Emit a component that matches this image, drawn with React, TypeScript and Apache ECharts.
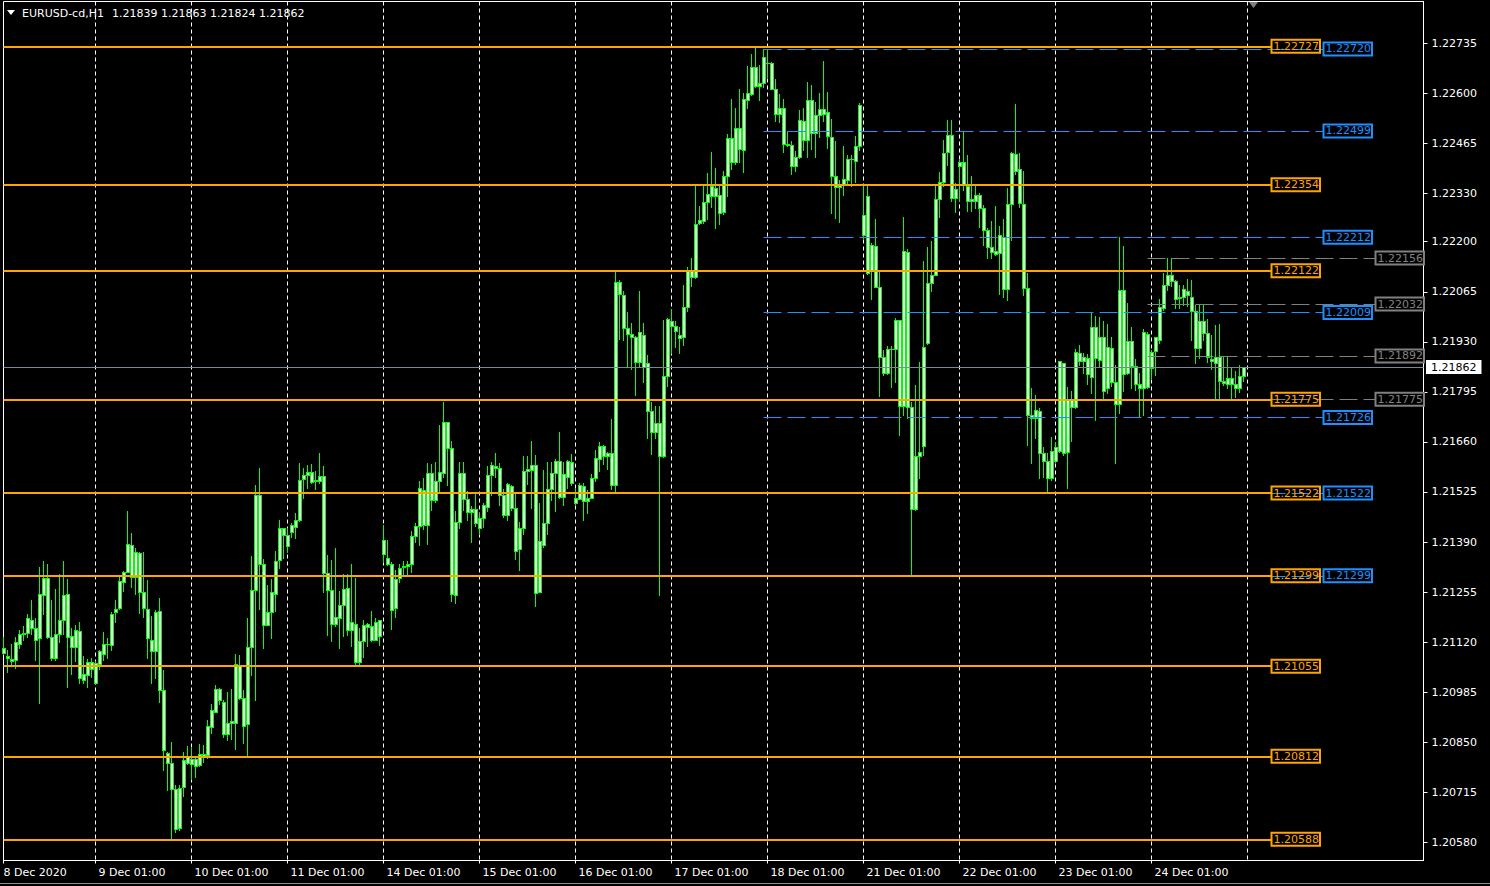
import React, { useEffect, useRef } from "react";
import * as echarts from "echarts";

// ---- data ----
const days = ["8 Dec", "9 Dec", "10 Dec", "11 Dec", "14 Dec", "15 Dec", "16 Dec", "17 Dec", "18 Dec", "21 Dec", "22 Dec", "23 Dec", "24 Dec", "25 Dec", "28 Dec"];
const firstDayBars = 23;
const barsPerDay = 24;
const slotCount = 356;
const lastGridSlot = 311;

// [open, close, low, high]
const dec08 = [
  [1.21103, 1.21091, 1.21089, 1.21134], [1.21082, 1.21076, 1.2104, 1.211], [1.21074, 1.21069, 1.21062, 1.21114],
  [1.21073, 1.2112, 1.2105, 1.21134], [1.21116, 1.21143, 1.21103, 1.21152], [1.21143, 1.21144, 1.21127, 1.21163],
  [1.21145, 1.21184, 1.21134, 1.21195], [1.21181, 1.21157, 1.21143, 1.21233], [1.21159, 1.21127, 1.21073, 1.21184],
  [1.21132, 1.21249, 1.20956, 1.21323], [1.21248, 1.21292, 1.21197, 1.21338], [1.21292, 1.21134, 1.2113, 1.2133],
  [1.21134, 1.21076, 1.21071, 1.21233], [1.21077, 1.21143, 1.21073, 1.21263], [1.21143, 1.21181, 1.21121, 1.21303],
  [1.21181, 1.21246, 1.21143, 1.21338], [1.21249, 1.21134, 1.20999, 1.2129], [1.21137, 1.21107, 1.21035, 1.21157],
  [1.21107, 1.21152, 1.21069, 1.21166], [1.21149, 1.21024, 1.2101, 1.21174], [1.21019, 1.21035, 1.21011, 1.21082],
  [1.21031, 1.21066, 1.20999, 1.21074], [1.21066, 1.21048, 1.21026, 1.21078],
];
const dec09 = [
  [1.2101, 1.21065, 1.21008, 1.21069], [1.21062, 1.21095, 1.21047, 1.211], [1.21089, 1.21116, 1.21071, 1.21147],
  [1.21114, 1.21116, 1.21077, 1.2113], [1.21113, 1.21195, 1.211, 1.212], [1.212, 1.2121, 1.21175, 1.21235],
  [1.21212, 1.21286, 1.2121, 1.213], [1.21283, 1.2131, 1.21258, 1.21311], [1.2131, 1.21386, 1.21308, 1.21473],
  [1.21383, 1.21296, 1.21269, 1.21414], [1.21296, 1.21364, 1.21249, 1.21373], [1.21361, 1.21254, 1.21199, 1.21363],
  [1.21256, 1.21212, 1.21188, 1.21363], [1.2121, 1.2113, 1.21078, 1.21287], [1.21127, 1.21097, 1.2101, 1.21191],
  [1.21097, 1.21202, 1.21023, 1.21206], [1.21205, 1.2099, 1.20959, 1.21238], [1.2099, 1.20828, 1.20776, 1.21044],
  [1.20821, 1.20795, 1.20722, 1.20823], [1.20795, 1.20725, 1.20591, 1.2085], [1.20723, 1.20617, 1.20607, 1.20734],
  [1.20618, 1.20727, 1.20612, 1.20734], [1.20728, 1.20801, 1.20706, 1.20823], [1.20794, 1.2081, 1.20792, 1.20839],
];
const dec10 = [
  [1.20806, 1.2079, 1.20752, 1.20835], [1.20785, 1.20806, 1.20756, 1.20814], [1.20788, 1.20819, 1.20785, 1.20846],
  [1.20817, 1.20814, 1.20797, 1.20842], [1.20815, 1.20893, 1.20808, 1.20911], [1.20891, 1.20936, 1.20875, 1.20954],
  [1.20932, 1.20993, 1.20931, 1.21004], [1.20993, 1.20963, 1.20952, 1.20995], [1.20958, 1.20873, 1.20864, 1.20963],
  [1.20873, 1.20902, 1.20857, 1.20985], [1.20902, 1.20906, 1.20858, 1.20994], [1.20903, 1.21062, 1.20833, 1.21087],
  [1.21059, 1.20969, 1.20966, 1.21086], [1.2097, 1.20895, 1.20848, 1.2099], [1.209, 1.21107, 1.20815, 1.21184],
  [1.21107, 1.2126, 1.21031, 1.21353], [1.2126, 1.21518, 1.20965, 1.21544], [1.21518, 1.2133, 1.2121, 1.21589],
  [1.2133, 1.21167, 1.21105, 1.21345], [1.21167, 1.21201, 1.21165, 1.21274], [1.21202, 1.21254, 1.21132, 1.2129],
  [1.21251, 1.21338, 1.21204, 1.21365], [1.21341, 1.21429, 1.21321, 1.21449], [1.21427, 1.2141, 1.21347, 1.21429],
];
const dec11 = [
  [1.2141, 1.2138, 1.21364, 1.21429], [1.21417, 1.21435, 1.21404, 1.21442], [1.21431, 1.21449, 1.21402, 1.21467],
  [1.21449, 1.21557, 1.21447, 1.21603], [1.21559, 1.21572, 1.2151, 1.21589], [1.21572, 1.21579, 1.21536, 1.21598],
  [1.21579, 1.21553, 1.2155, 1.216], [1.21554, 1.21557, 1.21533, 1.21581], [1.21555, 1.21568, 1.21548, 1.21631],
  [1.21568, 1.21307, 1.21256, 1.21595], [1.21307, 1.2126, 1.21139, 1.21355], [1.2126, 1.2117, 1.21123, 1.21341],
  [1.2117, 1.21188, 1.21164, 1.21375], [1.21186, 1.21219, 1.21103, 1.21258], [1.21221, 1.21264, 1.21136, 1.21303],
  [1.21267, 1.21154, 1.21139, 1.21303], [1.21154, 1.21173, 1.2111, 1.21332], [1.2117, 1.21066, 1.21058, 1.21292],
  [1.21066, 1.21122, 1.2106, 1.21158], [1.21122, 1.21166, 1.2108, 1.21179], [1.21161, 1.21168, 1.2111, 1.21172],
  [1.21163, 1.21127, 1.21123, 1.21203], [1.21127, 1.21173, 1.21125, 1.21186], [1.21137, 1.21179, 1.21112, 1.21181],
];
const dec14 = [
  [1.21359, 1.21395, 1.21337, 1.21436], [1.21346, 1.2133, 1.21328, 1.21395], [1.2133, 1.21208, 1.21156, 1.21337],
  [1.21211, 1.21289, 1.21188, 1.21314], [1.21292, 1.21319, 1.21283, 1.21332], [1.21323, 1.21325, 1.21303, 1.21338],
  [1.21326, 1.21332, 1.213, 1.21338], [1.21332, 1.21406, 1.2131, 1.2142], [1.21406, 1.21433, 1.21391, 1.21442],
  [1.21433, 1.21535, 1.21382, 1.21555], [1.2153, 1.21436, 1.21424, 1.21564], [1.21436, 1.21575, 1.21384, 1.21602],
  [1.21575, 1.21503, 1.21476, 1.216], [1.21503, 1.21554, 1.21499, 1.21606], [1.21554, 1.21578, 1.21523, 1.21706],
  [1.21575, 1.21713, 1.21566, 1.21767], [1.21713, 1.21643, 1.21544, 1.21715], [1.21643, 1.21251, 1.21231, 1.21662],
  [1.21246, 1.21445, 1.21226, 1.21473], [1.21445, 1.21575, 1.21427, 1.21606], [1.21575, 1.21505, 1.21476, 1.21606],
  [1.21505, 1.2147, 1.21449, 1.21527], [1.2147, 1.21478, 1.21391, 1.21487], [1.21478, 1.2144, 1.21433, 1.21521],
];
const dec15 = [
  [1.21428, 1.21454, 1.21411, 1.21467], [1.21454, 1.2149, 1.21431, 1.21494], [1.21485, 1.21572, 1.21474, 1.21595],
  [1.21572, 1.21599, 1.21517, 1.21606], [1.21596, 1.21589, 1.21566, 1.21631], [1.21591, 1.21518, 1.2149, 1.21602],
  [1.21518, 1.21463, 1.21458, 1.21532], [1.21463, 1.21546, 1.21449, 1.2155], [1.21542, 1.21481, 1.21476, 1.21544],
  [1.21481, 1.21366, 1.21344, 1.21521], [1.21371, 1.21429, 1.21314, 1.21445], [1.21429, 1.21581, 1.21411, 1.21622],
  [1.21581, 1.21586, 1.21546, 1.21622], [1.21584, 1.21599, 1.21483, 1.21662], [1.21599, 1.21253, 1.21218, 1.21625],
  [1.21256, 1.21393, 1.21254, 1.21494], [1.21381, 1.2144, 1.21377, 1.21584], [1.2144, 1.21532, 1.21413, 1.21606],
  [1.21532, 1.21575, 1.21503, 1.21606], [1.21575, 1.21608, 1.21474, 1.21613], [1.21608, 1.21512, 1.21508, 1.21688],
  [1.21512, 1.21573, 1.2149, 1.21606], [1.21566, 1.21608, 1.21537, 1.2161], [1.21605, 1.21548, 1.21544, 1.21627],
];
const dec16 = [
  [1.2151, 1.21494, 1.21492, 1.21535], [1.21507, 1.21543, 1.21505, 1.21548], [1.21541, 1.215, 1.21449, 1.21548],
  [1.215, 1.2151, 1.21467, 1.2153], [1.21509, 1.21562, 1.21508, 1.21573], [1.21562, 1.21616, 1.21555, 1.21638],
  [1.21613, 1.21649, 1.21582, 1.21661], [1.21649, 1.21622, 1.216, 1.21653], [1.21622, 1.21629, 1.21586, 1.21632],
  [1.21629, 1.21545, 1.21534, 1.21722], [1.21545, 1.22091, 1.21526, 1.2212], [1.22091, 1.22058, 1.21937, 1.22097],
  [1.22055, 1.21966, 1.21935, 1.22067], [1.21966, 1.21951, 1.21863, 1.2201], [1.21951, 1.21944, 1.21856, 1.21982],
  [1.21944, 1.21876, 1.21786, 1.21947], [1.21876, 1.21957, 1.21863, 1.22067], [1.21949, 1.21863, 1.21822, 1.21982],
  [1.21874, 1.21743, 1.2167, 1.21895], [1.21743, 1.21688, 1.21628, 1.21768], [1.21688, 1.21712, 1.2167, 1.21758],
  [1.21712, 1.21623, 1.21248, 1.21758], [1.21623, 1.21837, 1.21619, 1.21988], [1.21839, 1.21991, 1.21812, 1.21993],
];
const dec17 = [
  [1.21974, 1.21986, 1.219, 1.22018], [1.21974, 1.21959, 1.21915, 1.21986], [1.21941, 1.21949, 1.219, 1.21969],
  [1.21944, 1.22023, 1.21922, 1.22084], [1.22023, 1.22121, 1.22013, 1.22131], [1.22106, 1.22121, 1.2208, 1.22155],
  [1.22106, 1.22248, 1.22101, 1.22349], [1.22251, 1.22258, 1.22248, 1.22297], [1.22256, 1.22307, 1.22251, 1.22349],
  [1.22307, 1.22329, 1.22261, 1.22385], [1.22324, 1.22349, 1.22294, 1.22441], [1.22346, 1.22324, 1.22236, 1.22398],
  [1.22326, 1.22278, 1.22248, 1.22351], [1.2228, 1.22378, 1.22275, 1.22392], [1.22376, 1.2248, 1.22324, 1.2249],
  [1.2248, 1.22415, 1.22395, 1.22586], [1.22415, 1.22506, 1.2241, 1.2256], [1.22508, 1.22451, 1.22415, 1.22611],
  [1.22447, 1.22586, 1.22388, 1.22601], [1.22581, 1.22601, 1.22562, 1.22674], [1.22598, 1.22672, 1.22596, 1.22707],
  [1.2267, 1.2262, 1.22618, 1.22725], [1.2262, 1.22628, 1.22583, 1.22677], [1.22627, 1.22699, 1.22618, 1.22719],
];
const dec18 = [
  [1.22681, 1.22681, 1.22645, 1.22719], [1.22682, 1.22613, 1.22611, 1.22686], [1.22613, 1.22545, 1.22527, 1.2264],
  [1.22545, 1.2256, 1.22523, 1.22599], [1.2256, 1.22464, 1.22441, 1.22584], [1.22464, 1.22461, 1.22459, 1.225],
  [1.22461, 1.22405, 1.22382, 1.22473], [1.22405, 1.22429, 1.2239, 1.22444], [1.22429, 1.22529, 1.22425, 1.22554],
  [1.22525, 1.22475, 1.22447, 1.2256], [1.22475, 1.22581, 1.22429, 1.2263], [1.22581, 1.22493, 1.22449, 1.22622],
  [1.22493, 1.22542, 1.22429, 1.22578], [1.22542, 1.22557, 1.22483, 1.22601], [1.22557, 1.22545, 1.22527, 1.22687],
  [1.22549, 1.22486, 1.22454, 1.22603], [1.22483, 1.22376, 1.22278, 1.22532], [1.22376, 1.22348, 1.22263, 1.22471],
  [1.22348, 1.22356, 1.22253, 1.22366], [1.22353, 1.22368, 1.22327, 1.22457], [1.22366, 1.22423, 1.22359, 1.22434],
  [1.22423, 1.22422, 1.22351, 1.22434], [1.22418, 1.22459, 1.22361, 1.22486], [1.22459, 1.2257, 1.22447, 1.22574],
];
const dec21 = [
  [1.22219, 1.22271, 1.22209, 1.22351], [1.22324, 1.22116, 1.22114, 1.22349], [1.22121, 1.22192, 1.22045, 1.22196],
  [1.22189, 1.22079, 1.22077, 1.22261], [1.22079, 1.2189, 1.21785, 1.22124], [1.2189, 1.21846, 1.21841, 1.21908],
  [1.21846, 1.2191, 1.21844, 1.2192], [1.2191, 1.21912, 1.21807, 1.21918], [1.21912, 1.21988, 1.21822, 1.21993],
  [1.21988, 1.21758, 1.2168, 1.2199], [1.21758, 1.22175, 1.21734, 1.22268], [1.22172, 1.21753, 1.21724, 1.2218],
  [1.21753, 1.21479, 1.21302, 1.21768], [1.21479, 1.21623, 1.21477, 1.21814], [1.21623, 1.21633, 1.21562, 1.21876],
  [1.2165, 1.21915, 1.21626, 1.22147], [1.21928, 1.22089, 1.21925, 1.22187], [1.22088, 1.22111, 1.22066, 1.22203],
  [1.22111, 1.22314, 1.22109, 1.2235], [1.22314, 1.22361, 1.22268, 1.22388], [1.22361, 1.22439, 1.2235, 1.22475],
  [1.22442, 1.22489, 1.22408, 1.22529], [1.22489, 1.22318, 1.2231, 1.22529], [1.22318, 1.22342, 1.2228, 1.22358],
];
const dec22 = [
  [1.22403, 1.22415, 1.22309, 1.22421], [1.22415, 1.22354, 1.2234, 1.22496], [1.22349, 1.2231, 1.22283, 1.22435],
  [1.2231, 1.22316, 1.22283, 1.22378], [1.2231, 1.22327, 1.22292, 1.2235], [1.22327, 1.22291, 1.22241, 1.22331],
  [1.22291, 1.22232, 1.22192, 1.223], [1.22232, 1.22185, 1.22156, 1.22238], [1.22185, 1.22172, 1.22156, 1.22256],
  [1.22167, 1.22176, 1.22165, 1.22297], [1.22169, 1.22217, 1.2206, 1.22243], [1.22214, 1.22072, 1.2205, 1.22262],
  [1.22072, 1.22302, 1.22043, 1.22345], [1.22302, 1.22439, 1.22205, 1.22441], [1.22437, 1.22392, 1.22383, 1.22572],
  [1.22396, 1.22304, 1.22295, 1.22439], [1.22302, 1.22075, 1.22057, 1.22392], [1.22075, 1.21734, 1.21652, 1.22115],
  [1.21734, 1.21724, 1.21602, 1.21805], [1.21724, 1.21746, 1.2167, 1.21787], [1.21743, 1.21629, 1.21562, 1.21751],
  [1.21629, 1.21609, 1.21566, 1.21647], [1.21609, 1.21562, 1.21526, 1.21629], [1.21562, 1.21636, 1.21557, 1.21672],
];
const dec23 = [
  [1.21609, 1.21647, 1.21607, 1.21661], [1.21635, 1.21877, 1.21632, 1.21878], [1.21872, 1.21629, 1.21625, 1.21874],
  [1.21632, 1.21773, 1.21536, 1.21807], [1.21773, 1.21755, 1.21663, 1.21797], [1.21755, 1.21902, 1.21751, 1.21911],
  [1.21899, 1.21879, 1.21868, 1.21922], [1.21879, 1.21888, 1.21845, 1.21899], [1.21886, 1.21843, 1.21815, 1.21896],
  [1.21834, 1.21969, 1.21791, 1.2201], [1.21969, 1.21886, 1.21719, 1.22001], [1.21881, 1.21942, 1.21866, 1.21997],
  [1.21942, 1.21798, 1.21778, 1.21987], [1.21805, 1.21915, 1.21793, 1.21977], [1.21913, 1.21823, 1.21812, 1.21944],
  [1.21823, 1.21761, 1.21602, 1.21868], [1.21761, 1.2207, 1.21737, 1.22212], [1.2207, 1.21843, 1.21797, 1.22189],
  [1.21845, 1.21932, 1.21843, 1.22034], [1.21932, 1.21866, 1.21805, 1.21969], [1.21866, 1.21815, 1.218, 1.21884],
  [1.21815, 1.21805, 1.21728, 1.21845], [1.21805, 1.21956, 1.21734, 1.21964], [1.2195, 1.21809, 1.21805, 1.21956],
];
const dec24 = [
  [1.21859, 1.21902, 1.21832, 1.21908], [1.21904, 1.21942, 1.21841, 1.21944], [1.21935, 1.22023, 1.21928, 1.22046],
  [1.22021, 1.22082, 1.22016, 1.22117], [1.22084, 1.22111, 1.2207, 1.22156], [1.22111, 1.22095, 1.22081, 1.22156],
  [1.22093, 1.22046, 1.22021, 1.22097], [1.22048, 1.2205, 1.22021, 1.22084], [1.2205, 1.22072, 1.2203, 1.22082],
  [1.22067, 1.22055, 1.22028, 1.22099], [1.22052, 1.22014, 1.21935, 1.22097], [1.22014, 1.21913, 1.21872, 1.2203],
  [1.21913, 1.21987, 1.21886, 1.2203], [1.21987, 1.21954, 1.21935, 1.2203], [1.21954, 1.21888, 1.21875, 1.21992],
  [1.21883, 1.21877, 1.21857, 1.21949], [1.21874, 1.21888, 1.21778, 1.21976], [1.2189, 1.21824, 1.21778, 1.21977],
  [1.21824, 1.2182, 1.21814, 1.2189], [1.21815, 1.21832, 1.21805, 1.2189], [1.21832, 1.21815, 1.21778, 1.21859],
  [1.21815, 1.21805, 1.21782, 1.21851], [1.21805, 1.21838, 1.21796, 1.21868], [1.21839, 1.21862, 1.21824, 1.21863],
];

const orangeLevels = [1.22727, 1.22354, 1.22122, 1.21775, 1.21522, 1.21299, 1.21055, 1.20812, 1.20588];
const blueLevels = [1.2272, 1.22499, 1.22212, 1.22009, 1.21726, 1.21522, 1.21299];
const greyLevels = [1.22156, 1.22032, 1.21892, 1.21775];
const bidPrice = 1.21862;
const priceTicks = [1.2058, 1.20715, 1.2085, 1.20985, 1.2112, 1.21255, 1.2139, 1.21525, 1.2166, 1.21795, 1.2193, 1.22065, 1.222, 1.2233, 1.22465, 1.226, 1.22735];
const symbolText = "EURUSD-cd,H1";
const ohlcText = "1.21839 1.21863 1.21824 1.21862";

const FONT = "DejaVu Sans";
const ORANGE = "#ffa500";
const BLUE = "#1e90ff";
const GREY = "#808080";
const GREEN = "#00ff00";

const pad = (n: number) => (n < 10 ? "0" + n : "" + n);

export default function App() {
  const ref = useRef<HTMLDivElement>(null);

  useEffect(() => {
    const candles = [...dec08, ...dec09, ...dec10, ...dec11, ...dec14, ...dec15, ...dec16, ...dec17, ...dec18, ...dec21, ...dec22, ...dec23, ...dec24];
    const candleRows = candles.map((c, i) => [i, c[0], c[1], c[2], c[3]]);

    const categories: string[] = [];
    for (let k = 0; k < slotCount; k++) {
      if (k === 0) categories.push("8 Dec 2020");
      else if (k < firstDayBars) categories.push(`8 Dec ${pad((k + 2) % 24)}:00`);
      else {
        const d = 1 + Math.floor((k - firstDayBars) / barsPerDay);
        const h = ((k - firstDayBars) % barsPerDay) + 1;
        categories.push(`${days[d]} ${pad(h % 24)}:00`);
      }
    }
    const dayStarts = new Set<number>();
    dayStarts.add(0);
    for (let k = firstDayBars; k < slotCount; k += barsPerDay) dayStarts.add(k);
    const lastLabel = firstDayBars + barsPerDay * 11;

    const boxLabel = (color: string, text: string) => ({
      show: true,
      position: "end",
      distance: 0,
      formatter: text,
      color,
      fontSize: 11,
      fontFamily: FONT,
      lineHeight: 12,
      backgroundColor: "transparent",
      borderColor: color,
      borderWidth: 1,
      padding: [1, 1, 0, 2],
    });

    const lines: any[] = [];
    greyLevels.forEach((v) => {
      lines.push([
        { coord: [286, v], lineStyle: { color: GREY, width: 1, type: [18, 6] }, label: boxLabel(GREY, v.toFixed(5)) },
        { coord: [343, v] },
      ]);
    });
    blueLevels.forEach((v) => {
      lines.push([
        { coord: [190, v], lineStyle: { color: BLUE, width: 1, type: [18, 6] }, label: boxLabel(BLUE, v.toFixed(5)) },
        { coord: [330, v] },
      ]);
    });
    orangeLevels.forEach((v) => {
      lines.push([
        { coord: [0, v], lineStyle: { color: ORANGE, width: 2, type: "solid" }, label: boxLabel(ORANGE, v.toFixed(5)) },
        { coord: [317, v] },
      ]);
    });
    lines.push([
      {
        coord: [0, bidPrice],
        lineStyle: { color: "#778899", width: 1, type: "solid" },
        label: {
          show: true,
          position: "end",
          distance: 2.5,
          formatter: bidPrice.toFixed(5),
          color: "#000",
          fontSize: 11,
          fontFamily: FONT,
          lineHeight: 12,
          backgroundColor: "#fff",
          padding: [1, 5, 1, 5],
        },
      },
      { coord: [slotCount - 1, bidPrice] },
    ]);

    // MT4-style candle: 1px wick, body = green outline with white fill
    const renderCandle = (params: any, api: any) => {
      const k = api.value(0);
      const pO = api.coord([k, api.value(1)]);
      const pC = api.coord([k, api.value(2)]);
      const pL = api.coord([k, api.value(3)]);
      const pH = api.coord([k, api.value(4)]);
      const col = Math.floor(pO[0]);
      const yTop = Math.round(Math.min(pO[1], pC[1]));
      const yBot = Math.round(Math.max(pO[1], pC[1]));
      const yH = Math.round(pH[1]);
      const yL = Math.round(pL[1]);
      const bodyH = Math.max(1, yBot - yTop + 1);
      const children: any[] = [
        { type: "rect", shape: { x: col, y: yH, width: 1, height: yL - yH + 1 }, style: { fill: GREEN } },
        { type: "rect", shape: { x: col - 1, y: yTop, width: 4, height: bodyH }, style: { fill: GREEN } },
      ];
      if (bodyH > 2) {
        children.push({ type: "rect", shape: { x: col, y: yTop + 1, width: 2, height: bodyH - 2 }, style: { fill: "#ffffff" } });
      }
      return { type: "group", children };
    };

    const chart = echarts.init(ref.current!, null, { renderer: "svg" });
    chart.setOption({
      animation: false,
      backgroundColor: "#000",
      textStyle: { fontFamily: FONT },
      grid: { left: 3.5, right: 66.5, top: 1.5, bottom: 25.5, show: true, borderColor: "#ffffff", borderWidth: 1, backgroundColor: "#000" },
      xAxis: {
        type: "category",
        data: categories,
        boundaryGap: false,
        axisLine: { lineStyle: { color: "#ffffff", width: 1 } },
        axisTick: { show: true, length: 3, interval: (i: number) => dayStarts.has(i) && i <= lastLabel, lineStyle: { color: "#ffffff" } },
        axisLabel: {
          interval: (i: number) => dayStarts.has(i) && i <= lastLabel,
          formatter: (v: string, i: number) => (i === 0 ? `{a|${v}}` : `{b|${v}}`),
          align: "left",
          margin: 6,
          color: "#ffffff",
          fontSize: 11,
          fontFamily: FONT,
          hideOverlap: false,
          rich: {
            a: { color: "#ffffff", fontSize: 11, fontFamily: FONT, padding: [0, 0, 0, 0] },
            b: { color: "#ffffff", fontSize: 11, fontFamily: FONT, padding: [0, 0, 0, 3] },
          },
        },
        splitLine: {
          show: true,
          interval: (i: number) => dayStarts.has(i) && i > 0 && i <= lastGridSlot,
          lineStyle: { color: "#ffffff", type: [4, 3], width: 1 },
        },
      },
      yAxis: {
        type: "value",
        position: "right",
        min: 1.20531,
        max: 1.22848,
        scale: true,
        splitLine: { show: false },
        axisLine: { show: true, lineStyle: { color: "#ffffff" } },
        axisTick: { show: true, length: 4, customValues: priceTicks, lineStyle: { color: "#ffffff" } },
        axisLabel: {
          customValues: priceTicks,
          formatter: (v: number) => v.toFixed(5),
          color: "#ffffff",
          fontSize: 11,
          fontFamily: FONT,
          margin: 8,
        },
      },
      series: [
        {
          type: "custom",
          data: candleRows,
          encode: { x: 0, y: [1, 2, 3, 4] },
          renderItem: renderCandle,
          silent: true,
          clip: false,
        },
        {
          type: "line",
          data: [],
          silent: true,
          markLine: {
            silent: true,
            symbol: ["none", "none"],
            animation: false,
            data: lines,
          },
        },
      ],
      graphic: [
        { type: "polygon", shape: { points: [[7, 10], [15, 10], [11, 15]] }, style: { fill: "#ffffff" } },
        { type: "text", x: 22, y: 13, style: { text: symbolText, fill: "#ffffff", font: `11px '${FONT}'`, verticalAlign: "middle" } },
        { type: "text", x: 112, y: 13, style: { text: ohlcText, fill: "#ffffff", font: `11px '${FONT}'`, verticalAlign: "middle" } },
        { type: "polygon", shape: { points: [[1249, 2], [1258, 2], [1253.5, 8]] }, style: { fill: GREY } },
        { type: "line", shape: { x1: 0, y1: 883.5, x2: 1490, y2: 883.5 }, style: { stroke: "#909090", lineWidth: 1 } },
      ],
    });
    return () => chart.dispose();
  }, []);

  return (
    <div
      ref={ref}
      style={{ position: "fixed", left: 0, top: 0, width: 1490, height: 886, background: "#000" }}
    />
  );
}
